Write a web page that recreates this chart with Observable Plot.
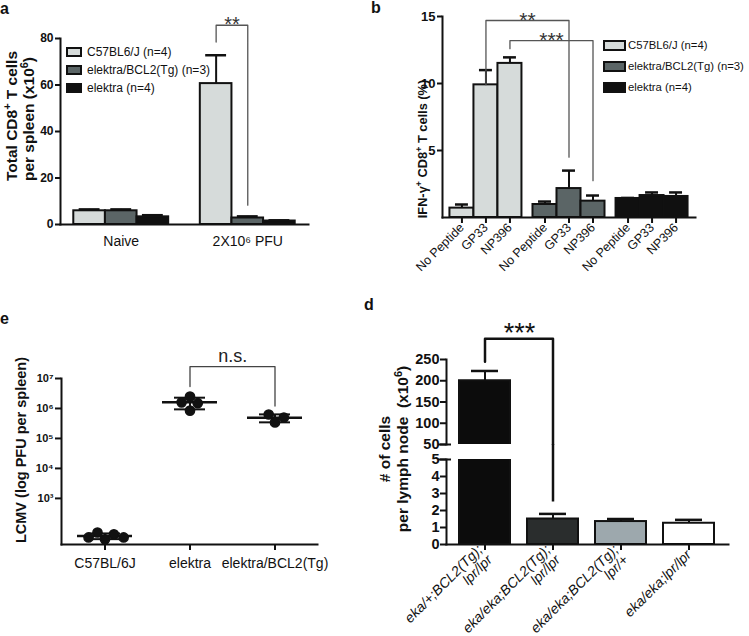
<!DOCTYPE html>
<html>
<head>
<meta charset="utf-8">
<script src="https://cdn.jsdelivr.net/npm/d3@7"></script>
<script src="https://cdn.jsdelivr.net/npm/@observablehq/plot@0.6"></script>
<style>
  html,body{margin:0;padding:0;background:#fff;}
  #fig{position:relative;width:749px;height:636px;overflow:hidden;font-family:"Liberation Sans",Arial,Helvetica,sans-serif;color:#111;}
  #fig .panel{position:absolute;}
  #fig svg{overflow:visible;}
  .letter{position:absolute;font-weight:bold;font-size:16px;line-height:1;}
  .ytitle{position:absolute;font-weight:bold;white-space:nowrap;transform:translate(-50%,-50%) rotate(-90deg);}
  .ytitle sup{font-size:0.7em;vertical-align:0.55em;line-height:0;}
  .leg-row{position:absolute;display:flex;align-items:center;white-space:nowrap;}
  .leg-sw{box-sizing:border-box;border:2px solid #111;flex:none;}
</style>
</head>
<body>
<div id="fig"></div>
<script>
const FONT = '"Liberation Sans", Arial, Helvetica, sans-serif';
const INK = "#111111";

// ---------- Panel a data ----------
const groupsA = ["Naive", "2X10⁶ PFU"];
const strains = ["C57BL6/J (n=4)", "elektra/BCL2(Tg) (n=3)", "elektra (n=4)"];
const strainColors = ["#d6dbda", "#5b6566", "#101010"];
const cd8C57 = [5.9, 60.6];
const cd8C57Err = [6.5, 72.8];
const cd8BCL2 = [5.9, 2.8];
const cd8BCL2Err = [6.5, 3.5];
const cd8Elektra = [3.3, 1.5];
const cd8ElektraErr = [4.0, 1.8];
const yTicksA = [0, 20, 40, 60, 80];
const sigA = [{label: "**", group: 1, from: 0, to: 1, fromY: 78.5, top: 85.7, toY: 8.3}];

// ---------- Panel b data ----------
const peptides = ["No Peptide", "GP33", "NP396"];
const ifnC57 = [0.7, 9.9, 11.5];
const ifnC57Err = [0.97, 11.0, 11.95];
const ifnBCL2 = [0.97, 2.16, 1.22];
const ifnBCL2Err = [1.19, 3.5, 1.64];
const ifnElektra = [1.42, 1.64, 1.57];
const ifnElektraErr = [1.46, 1.87, 1.87];
const yTicksB = [5, 10, 15];
const sigB = [
  {label: "**", from: [0, 1], to: [1, 1], fromY: 9.9, top: 14.7, toY: 4.5},
  {label: "***", from: [0, 2], to: [1, 2], fromY: 12.6, top: 13.2, toY: 2.75}
];

// ---------- Panel e data ----------
const groupsE = ["C57BL/6J", "elektra", "elektra/BCL2(Tg)"];
const pfuC57 = [43, 73, 63, 50, 50];
const pfuElektra = [2.5e6, 0.85e6, 1.6e6, 1.5e6];
const pfuBCL2 = [3.4e5, 6.3e5, 5.0e5];
const yTicksE = [1e3, 1e4, 1e5, 1e6, 1e7];
const sigE = [{label: "n.s.", from: "elektra", to: "elektra/BCL2(Tg)", fromY: 5.4e6, top: 2.5e7, toY: 1.2e6}];

// ---------- Panel d data ----------
const genotypes = ["eka/+;BCL2(Tg);\nlpr/lpr", "eka/eka;BCL2(Tg);\nlpr/lpr", "eka/eka;BCL2(Tg);\nlpr/+", "eka/eka;lpr/lpr"];
const lnCells = [200, 1.5, 1.35, 1.25];
const lnCellsErr = [223, 1.8, 1.5, 1.45];
const genotypeColors = ["#0c0c0c", "#2a2d2d", "#9da8ad", "#ffffff"];
const yTicksDUpper = [50, 100, 150, 200, 250];
const yTicksDLower = [0, 1, 2, 3, 4, 5];
const sigD = [{label: "***", from: 0, to: 1, fromY: 245, top: 299, toY: 2.5}];

// ---------- helpers ----------
const fig = document.getElementById("fig");
const baseStyle = {background: "transparent", fontFamily: FONT, fontSize: "11px", color: INK, overflow: "visible"};
function addPanel(node, left, top, w, h) {
  const div = document.createElement("div");
  div.className = "panel";
  Object.assign(div.style, {left: left + "px", top: top + "px", width: w + "px", height: h + "px"});
  div.appendChild(node);
  fig.appendChild(div);
}
function addText(cls, html, css) {
  const div = document.createElement("div");
  div.className = cls;
  div.innerHTML = html;
  Object.assign(div.style, css);
  fig.appendChild(div);
}
function addLegend(items, colors, o) {
  items.forEach((t, i) => {
    const row = document.createElement("div");
    row.className = "leg-row";
    Object.assign(row.style, {left: o.left + "px", top: (o.cy + i * o.gap - o.swH / 2) + "px", height: o.swH + "px", fontSize: o.fontSize + "px"});
    const sw = document.createElement("div");
    sw.className = "leg-sw";
    Object.assign(sw.style, {width: o.swW + "px", height: o.swH + "px", background: colors[i], marginRight: o.textGap + "px"});
    const span = document.createElement("span");
    span.textContent = t;
    row.append(sw, span);
    fig.appendChild(row);
  });
}
const bracket = (x1, x2, s) => [{x: x1, y: s.fromY}, {x: x1, y: s.top}, {x: x2, y: s.top}, {x: x2, y: s.toY}];
const supDigits = "⁰¹²³⁴⁵⁶⁷⁸⁹";
const pow10 = d => "10" + String(Math.round(Math.log10(d))).split("").map(c => supDigits[+c]).join("");
const intFmt = d => String(d);

// ---------- Panel a ----------
const meansA = [cd8C57, cd8BCL2, cd8Elektra];
const errsA = [cd8C57Err, cd8BCL2Err, cd8ElektraErr];
const slotA = (g, s) => g * 4 + s;
const rowsA = [];
groupsA.forEach((g, gi) => strains.forEach((s, si) =>
  rowsA.push({group: g, strain: s, value: meansA[si][gi], err: errsA[si][gi], slot: slotA(gi, si)})));
const xDomA = [slotA(0, 0) - 0.92, slotA(groupsA.length - 1, strains.length - 1) + 0.92];
const bracketA = sigA.flatMap(s => bracket(slotA(s.group, s.from), slotA(s.group, s.to), s));
const plotA = Plot.plot({
  width: 370, height: 250, marginLeft: 60, marginRight: 62, marginTop: 38, marginBottom: 26,
  style: baseStyle,
  x: {domain: xDomA, axis: null},
  y: {domain: [0, 80], axis: null},
  color: {domain: strains, range: strainColors},
  marks: [
    Plot.ruleX(rowsA, {x: "slot", y1: "value", y2: "err", stroke: INK, strokeWidth: 2}),
    Plot.ruleY(rowsA, {y: "err", x1: d => d.slot - 0.33, x2: d => d.slot + 0.33, stroke: INK, strokeWidth: 2.5}),
    Plot.rectY(rowsA, {x1: d => d.slot - 0.5, x2: d => d.slot + 0.5, y1: 0, y2: "value", fill: "strain", stroke: INK, strokeWidth: 2}),
    Plot.frame({anchor: "left", stroke: INK, strokeWidth: 2}),
    Plot.frame({anchor: "bottom", stroke: INK, strokeWidth: 2}),
    Plot.axisY({ticks: yTicksA, tickFormat: intFmt, tickSize: 5, tickPadding: 2, fontWeight: "bold", fontSize: 12, strokeWidth: 2, label: null}),
    Plot.axisX({ticks: groupsA.map((g, i) => slotA(i, 1)), tickFormat: v => groupsA[(v - 1) / 4], tickSize: 0, tickPadding: 12, fontSize: 14, label: null}),
    Plot.line(bracketA, {x: "x", y: "y", stroke: "#555", strokeWidth: 1.3}),
    Plot.text(sigA, {x: s => (slotA(s.group, s.from) + slotA(s.group, s.to)) / 2, y: "top", text: "label", lineAnchor: "bottom", dy: 6, fontSize: 20, fill: "#333"})
  ]
});
addPanel(plotA, 0, 0, 370, 250);

// ---------- Panel b ----------
const meansB = [ifnC57, ifnBCL2, ifnElektra];
const errsB = [ifnC57Err, ifnBCL2Err, ifnElektraErr];
const groupStepB = peptides.length + 0.46;
const slotB = (g, p) => g * groupStepB + p;
const rowsB = [];
strains.forEach((s, gi) => peptides.forEach((p, pi) =>
  rowsB.push({strain: s, peptide: p, value: meansB[gi][pi], err: errsB[gi][pi], slot: slotB(gi, pi)})));
const xDomB = [slotB(0, 0) - 0.81, slotB(strains.length - 1, peptides.length - 1) + 0.81];
const slotNameB = new Map(rowsB.map(r => [r.slot, r.peptide]));
const bracketB = sigB.map(s => bracket(slotB(...s.from), slotB(...s.to), s));
const plotB = Plot.plot({
  width: 379, height: 300, marginLeft: 72, marginRight: 54, marginTop: 16, marginBottom: 83,
  style: baseStyle,
  x: {domain: xDomB, axis: null},
  y: {domain: [0, 15], axis: null},
  color: {domain: strains, range: strainColors},
  marks: [
    Plot.ruleX(rowsB, {x: "slot", y1: "value", y2: "err", stroke: INK, strokeWidth: 2}),
    Plot.ruleY(rowsB, {y: "err", x1: d => d.slot - 0.27, x2: d => d.slot + 0.27, stroke: INK, strokeWidth: 2.5}),
    Plot.rectY(rowsB, {x1: d => d.slot - 0.5, x2: d => d.slot + 0.5, y1: 0, y2: "value", fill: "strain", stroke: INK, strokeWidth: 2}),
    Plot.frame({anchor: "left", stroke: INK, strokeWidth: 2}),
    Plot.frame({anchor: "bottom", stroke: INK, strokeWidth: 2}),
    Plot.axisY({ticks: yTicksB, tickFormat: intFmt, tickSize: 5, tickPadding: 2, fontWeight: "bold", fontSize: 13, strokeWidth: 2, label: null}),
    Plot.axisX({ticks: rowsB.map(r => r.slot), tickFormat: v => slotNameB.get(v), tickSize: 6, tickPadding: 2, tickRotate: -45, fontSize: 12.5, strokeWidth: 2, label: null}),
    ...bracketB.map(pts => Plot.line(pts, {x: "x", y: "y", stroke: "#555", strokeWidth: 1.3})),
    Plot.text(sigB, {x: s => (slotB(...s.from) + slotB(...s.to)) / 2, y: "top", text: "label", lineAnchor: "bottom", dy: 6, fontSize: 21, fill: "#333"})
  ]
});
addPanel(plotB, 370, 0, 379, 300);

// ---------- Panel e ----------
const pfuSets = [pfuC57, pfuElektra, pfuBCL2];
const rowsE = pfuSets.flatMap((vals, i) => vals.map(v => ({group: groupsE[i], pfu: v})));
const statsE = pfuSets.map((vals, i) => {
  const m = d3.mean(vals), sd = d3.deviation(vals);
  return {group: groupsE[i], mean: m, lo: m - sd, hi: m + sd};
});
const dimE = {width: 370, height: 336, marginLeft: 61, marginRight: 53, marginTop: 78, marginBottom: 92};
const yE = {type: "log", domain: [29, 1e7]};
const bandE = (dimE.width - dimE.marginLeft - dimE.marginRight) / groupsE.length;
const bracketE = sigE.flatMap(s => bracket(s.from, s.to, s));
const plotE = Plot.plot({
  ...dimE,
  style: baseStyle,
  x: {domain: groupsE, padding: 0, label: null},
  y: {...yE, axis: null},
  marks: [
    Plot.ruleX(statsE, {x: "group", y1: "lo", y2: "hi", stroke: INK, strokeWidth: 2}),
    Plot.tickY(statsE, {x: "group", y: "lo", insetLeft: 27, insetRight: 27, stroke: INK, strokeWidth: 2}),
    Plot.tickY(statsE, {x: "group", y: "hi", insetLeft: 27, insetRight: 27, stroke: INK, strokeWidth: 2}),
    Plot.tickY(statsE, {x: "group", y: "mean", insetLeft: 15, insetRight: 15, stroke: INK, strokeWidth: 2.5}),
    Plot.frame({anchor: "left", stroke: INK, strokeWidth: 2}),
    Plot.frame({anchor: "bottom", stroke: INK, strokeWidth: 2}),
    Plot.axisY({ticks: yTicksE, tickFormat: pow10, tickSize: 6, tickPadding: 2, fontWeight: "bold", fontSize: 11, strokeWidth: 2, label: null}),
    Plot.axisX({tickSize: 6, tickPadding: 8, fontSize: 14, strokeWidth: 2, label: null}),
    Plot.line(bracketE, {x: "x", y: "y", stroke: "#444", strokeWidth: 1.3}),
    Plot.text(sigE, {x: "from", dx: bandE / 2, y: "top", text: "label", lineAnchor: "bottom", dy: -5, fontSize: 18, fill: "#222"})
  ]
});
addPanel(plotE, 0, 300, 370, 336);
const plotEdots = Plot.plot({
  ...dimE,
  style: baseStyle,
  fx: {domain: groupsE, padding: 0, axis: null},
  y: {...yE, axis: null},
  marks: [
    Plot.dot(rowsE, Plot.dodgeX("middle", {fx: "group", y: "pfu", r: 4.6, padding: 0.5, fill: INK, stroke: INK}))
  ]
});
addPanel(plotEdots, 0, 300, 370, 336);

// ---------- Panel d ----------
const rowsD = genotypes.map((g, i) => ({g, v: lnCells[i], e: lnCellsErr[i]}));
const xD = {domain: genotypes, paddingInner: 0.246, paddingOuter: 0.17};
const dimDU = {width: 379, height: 150, marginLeft: 76, marginRight: 21, marginTop: 59, marginBottom: 6};
const dimDL = {width: 379, height: 192, marginLeft: 76, marginRight: 21, marginTop: 15, marginBottom: 92};
const frameWD = dimDU.width - dimDU.marginLeft - dimDU.marginRight;
const stepD = frameWD / (genotypes.length - xD.paddingInner + 2 * xD.paddingOuter);
const lowerPxPerUnit = (dimDL.height - dimDL.marginTop - dimDL.marginBottom) / (yTicksDLower[yTicksDLower.length - 1]);
const bracketD = sigD.flatMap(s => bracket(genotypes[s.from], genotypes[s.to], {...s, toY: yTicksDUpper[0]}));
const barMarksD = [
  Plot.ruleX(rowsD, {x: "g", y1: "v", y2: "e", stroke: INK, strokeWidth: 2, clip: true}),
  Plot.tickY(rowsD, {x: "g", y: "e", insetLeft: 12, insetRight: 12, stroke: INK, strokeWidth: 2.5, clip: true}),
  Plot.barY(rowsD, {x: "g", y1: 0, y2: "v", fill: "g", stroke: INK, strokeWidth: 2, clip: true})
];
// axis-break marks: the innermost ticks on each side of the break cross the axis line
const breakMark = y => Plot.ruleY([y], {insetLeft: -8, insetRight: frameWD - 5, stroke: INK, strokeWidth: 2});
const upperD = Plot.plot({
  ...dimDU,
  style: baseStyle,
  x: {...xD, axis: null},
  y: {domain: [50, 250], axis: null},
  color: {domain: genotypes, range: genotypeColors},
  marks: [
    ...barMarksD,
    Plot.frame({anchor: "left", stroke: INK, strokeWidth: 2}),
    Plot.axisY({ticks: yTicksDUpper, tickFormat: intFmt, tickSize: 6, tickPadding: 1, fontWeight: "bold", fontSize: 14.5, strokeWidth: 2, label: null}),
    breakMark(yTicksDUpper[0]),
    Plot.line(bracketD, {x: "x", y: "y", stroke: INK, strokeWidth: 2.5}),
    Plot.text(sigD, {x: s => genotypes[s.from], dx: stepD / 2, y: "top", text: "label", lineAnchor: "bottom", dy: 3, fontSize: 27, fill: INK})
  ]
});
const lowerD = Plot.plot({
  ...dimDL,
  style: baseStyle,
  x: {...xD, label: null, axis: null},
  y: {domain: [0, 5], axis: null},
  color: {domain: genotypes, range: genotypeColors},
  marks: [
    ...barMarksD,
    Plot.frame({anchor: "left", stroke: INK, strokeWidth: 2}),
    Plot.frame({anchor: "bottom", stroke: INK, strokeWidth: 2}),
    Plot.axisY({ticks: yTicksDLower, tickFormat: intFmt, tickSize: 6, tickPadding: 1, fontWeight: "bold", fontSize: 14.5, strokeWidth: 2, label: null}),
    breakMark(yTicksDLower[yTicksDLower.length - 1]),
    Plot.axisX({tickSize: 6, tickPadding: 2, tickRotate: -45, fontStyle: "italic", fontSize: 14, strokeWidth: 2, label: null}),
    Plot.ruleX(sigD, {x: s => genotypes[s.to], y1: "toY", y2: 5 + dimDL.marginTop / lowerPxPerUnit, stroke: INK, strokeWidth: 2.5})
  ]
});
addPanel(lowerD, 370, 444, 379, 192);
addPanel(upperD, 370, 300, 379, 150);

// ---------- titles, letters, legends ----------
addText("letter", "a", {left: "0px", top: "1px"});
addText("letter", "b", {left: "371px", top: "0px"});
addText("letter", "e", {left: "0px", top: "311px"});
addText("letter", "d", {left: "364px", top: "297px"});
addText("ytitle", "Total CD8<sup>+</sup> T cells<br>per spleen (x10<sup>6</sup>)", {left: "20px", top: "116px", fontSize: "15.5px", lineHeight: "17px", textAlign: "left"});
addText("ytitle", "IFN-γ<sup>+</sup> CD8<sup>+</sup> T cells (%)", {left: "422px", top: "149px", fontSize: "12.8px"});
addText("ytitle", "LCMV (log PFU per spleen)", {left: "21px", top: "450px", fontSize: "14.5px"});
addText("ytitle", "# of cells<br>per lymph node&nbsp; (x10<sup>6</sup>)", {left: "394px", top: "449px", fontSize: "15.5px", lineHeight: "18px", textAlign: "center"});
addLegend(strains, strainColors, {left: 66, cy: 52, gap: 18, swW: 16, swH: 10, textGap: 5, fontSize: 12});
addLegend(strains, strainColors, {left: 603, cy: 45, gap: 21, swW: 23, swH: 11, textGap: 2, fontSize: 11.3});
</script>
</body>
</html>
